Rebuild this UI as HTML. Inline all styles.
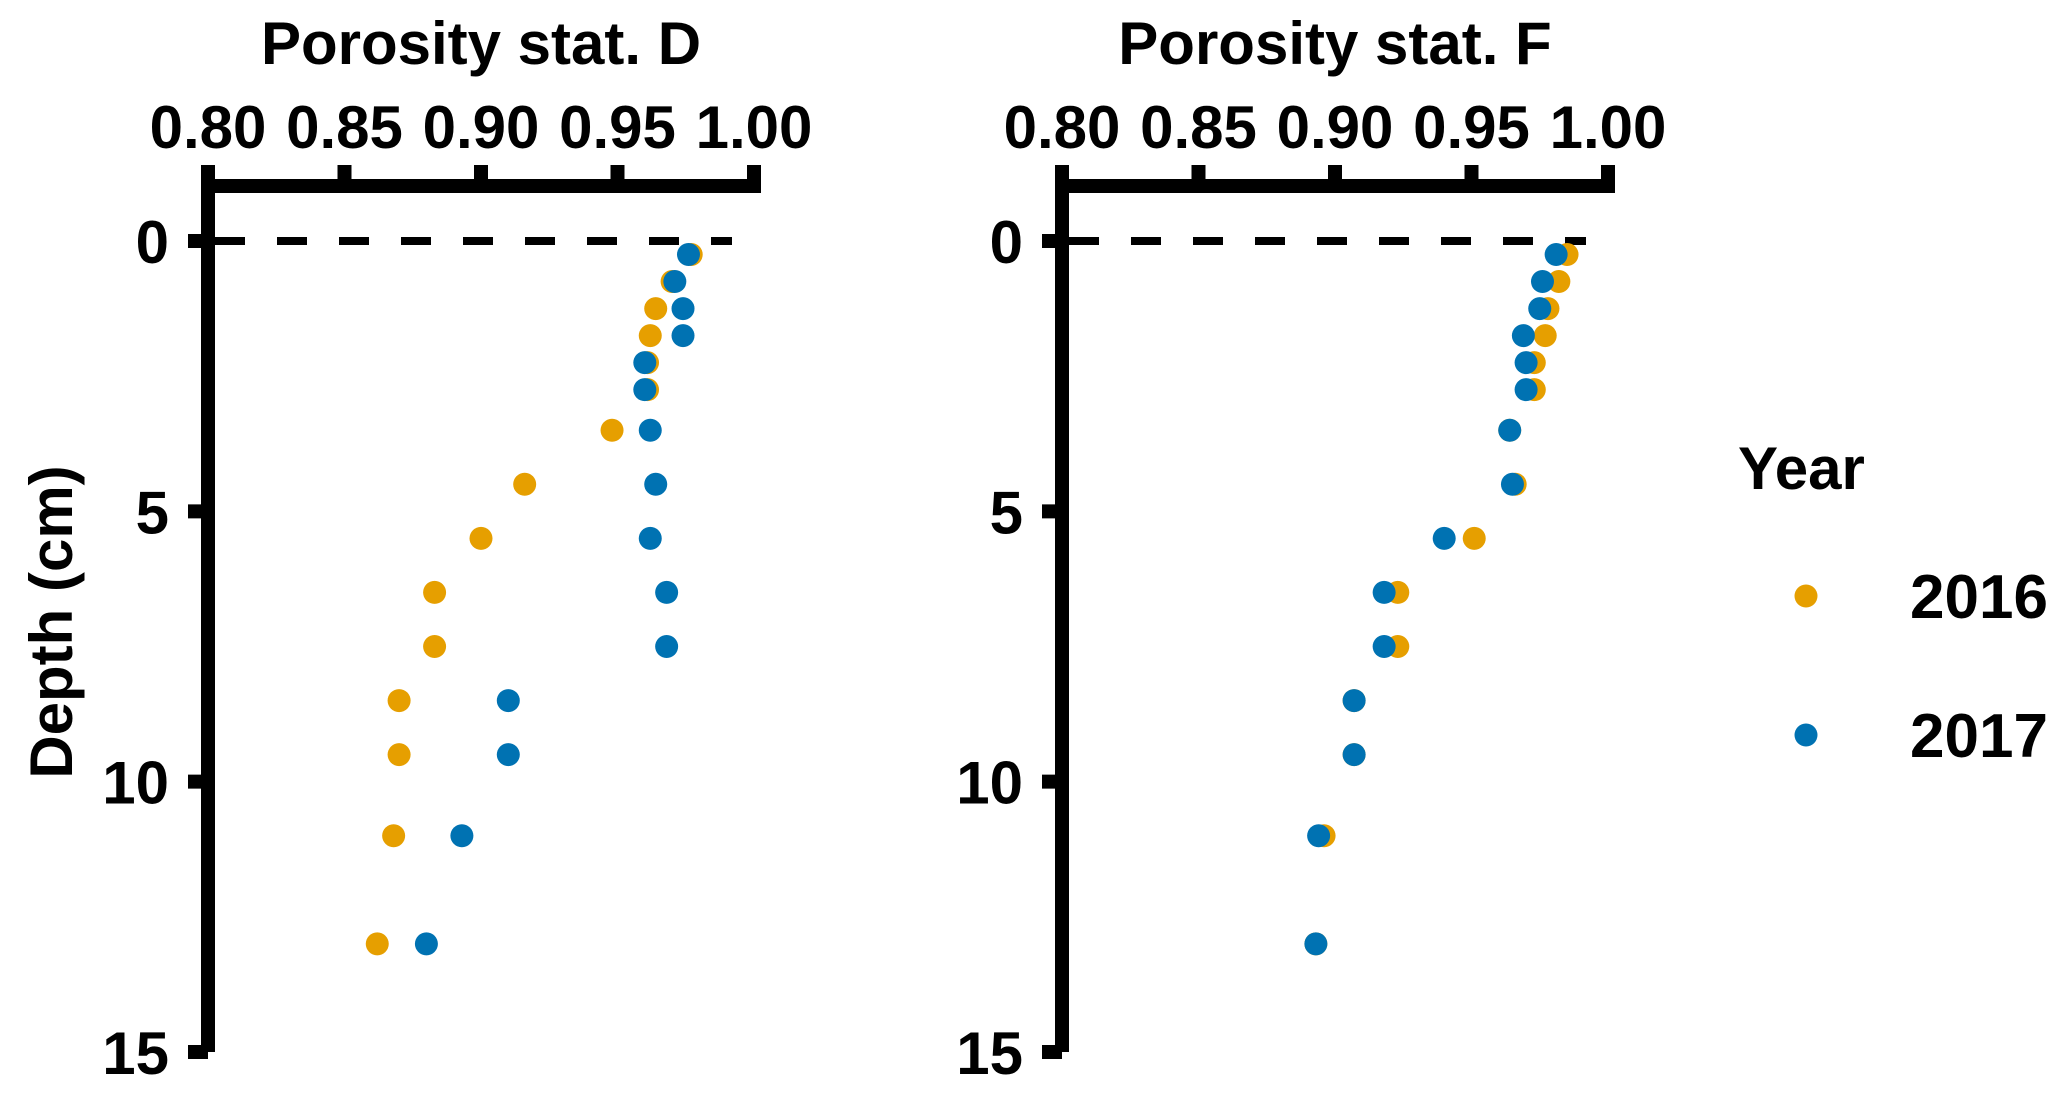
<!DOCTYPE html>
<html><head><meta charset="utf-8"><style>
html,body{margin:0;padding:0;background:#fff}
svg{display:block;font-family:"Liberation Sans",Arial,sans-serif;font-weight:bold}
</style></head><body>
<svg id="c" width="2067" height="1096" viewBox="0 0 2067 1096">
<g id="g"></g>
</svg>
<script>
const depths = [0.25,0.75,1.25,1.75,2.25,2.75,3.5,4.5,5.5,6.5,7.5,8.5,9.5,11,13];
const porD2016 = [0.977,0.970,0.964,0.962,0.961,0.961,0.948,0.916,0.900,0.883,0.883,0.870,0.870,0.868,0.862];
const porD2017 = [0.976,0.971,0.974,0.974,0.960,0.960,0.962,0.964,0.962,0.968,0.968,0.910,0.910,0.893,0.880];
const porF2016 = [0.985,0.982,0.978,0.977,0.973,0.973,0.964,0.966,0.951,0.923,0.923,0.907,0.907,0.896,0.893];
const porF2017 = [0.981,0.976,0.975,0.969,0.970,0.970,0.964,0.965,0.940,0.918,0.918,0.907,0.907,0.894,0.893];
const xTicks = [0.80,0.85,0.90,0.95,1.00];
const xTickLabels = ["0.80","0.85","0.90","0.95","1.00"];
const yTicks = [0,5,10,15];
const years = ["2016","2017"];
const colors = {"2016":"#E69F00","2017":"#0072B2"};

const NS="http://www.w3.org/2000/svg";
const g=document.getElementById('g');
function mk(tag,attrs,parent){const e=document.createElementNS(NS,tag);for(const k in attrs)e.setAttribute(k,attrs[k]);(parent||g).appendChild(e);return e;}
function yScale(d){return 241+(d/15)*(1052-241);}

function panel(x0,title,s16,s17,key){
  const xScale=v=>x0+(v-0.8)/0.2*546;
  const pg=mk('g',{});
  
  
  const t=mk('text',{x:xScale(0.9),y:64,'font-size':60,'text-anchor':'middle'},pg);
  t.textContent=title;
  
  
  // top axis
  const ax=mk('line',{x1:x0-7,x2:xScale(1.0)+7,y1:186,y2:186,stroke:'#000','stroke-width':14},pg);
  
  
  xTicks.forEach((v,i)=>{
    const tk=mk('line',{x1:xScale(v),x2:xScale(v),y1:165,y2:186,stroke:'#000','stroke-width':14},pg);
    
    
    const tl=mk('text',{x:xScale(v),y:148,'font-size':60,'text-anchor':'middle'},pg);
    tl.textContent=xTickLabels[i];
    
    
  });
  // left axis
  const ay=mk('line',{x1:x0,x2:x0,y1:179,y2:1052,stroke:'#000','stroke-width':14},pg);
  
  
  yTicks.forEach(v=>{
    const tk=mk('line',{x1:x0-20,x2:x0,y1:yScale(v),y2:yScale(v),stroke:'#000','stroke-width':14},pg);
    
    
    const tl=mk('text',{x:x0-39,y:yScale(v)+22,'font-size':60,'text-anchor':'end'},pg);
    tl.textContent=String(v);
    
    
  });
  const dl=mk('line',{x1:x0+7,x2:x0+524,y1:yScale(0),y2:yScale(0),stroke:'#000','stroke-width':8,'stroke-dasharray':'30 32'},pg);
  
  
  [[s16,'2016'],[s17,'2017']].forEach(([s,yr])=>{
    s.forEach((v,i)=>{
      const c=mk('circle',{cx:xScale(v),cy:yScale(depths[i]),r:11.5,fill:colors[yr]},pg);
      
      
    });
  });
}
panel(208,'Porosity stat. D',porD2016,porD2017,'d');
panel(1062,'Porosity stat. F',porF2016,porF2017,'f');

const yt=mk('text',{x:0,y:0,'font-size':60,'text-anchor':'middle',transform:'translate(72,622) rotate(-90)'});
yt.textContent='Depth (cm)';



const lg=mk('g',{});


const lt=mk('text',{x:1738,y:489,'font-size':60},lg);
lt.textContent='Year';


years.forEach((yr,i)=>{
  const cy=596+i*139;
  const c=mk('circle',{cx:1806,cy:cy,r:11.5,fill:colors[yr]},lg);
  
  
  const t=mk('text',{x:1910,y:cy+22,'font-size':62},lg);
  t.textContent=yr;
  
  
});
</script>
</body></html>
